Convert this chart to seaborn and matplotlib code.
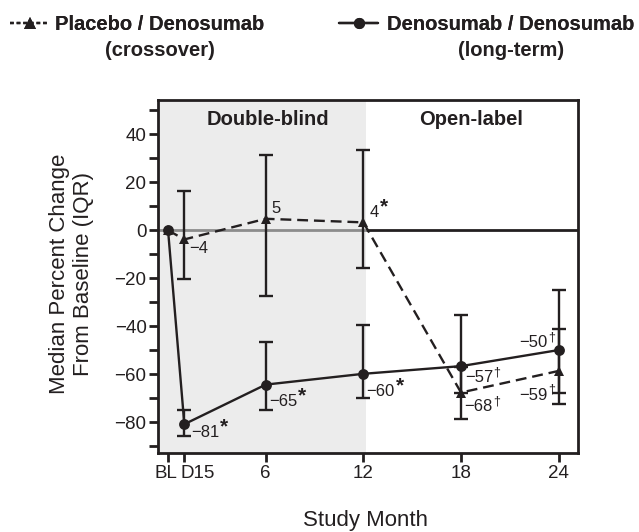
import numpy as np
import pandas as pd
import matplotlib
matplotlib.use('Agg')
import matplotlib.pyplot as plt
import matplotlib.transforms as mtransforms
from matplotlib.lines import Line2D
import seaborn as sns

# ---------------- data ----------------
months = [0, 1, 6, 12, 18, 24]
tick_labels = ['BL', 'D15', '6', '12', '18', '24']

placebo_median = [0, -3.8, 4.8, 3.3, -67.6, -58.6]
placebo_q1 = [0, -20.3, -27.2, -15.6, -78.5, -72.4]
placebo_q3 = [0, 16.5, 31.4, 33.5, -57.0, -41.1]
placebo_labels = ['', '−4', '5', '4*', '−68†', '−59†']

deno_median = [0, -80.8, -64.3, -59.8, -56.6, -49.9]
deno_q1 = [0, -85.6, -74.9, -69.7, -67.6, -67.6]
deno_q3 = [0, -74.9, -46.4, -39.5, -35.5, -24.9]
deno_labels = ['', '−81*', '−65*', '−60*', '−57†', '−50†']

series_names = ['Placebo / Denosumab', 'Denosumab / Denosumab']
series_sub = ['(crossover)', '(long-term)']
phase_names = ['Double-blind', 'Open-label']
xlabel = 'Study Month'
ylabel = 'Median Percent Change\nFrom Baseline (IQR)'

# ---------------- style ----------------
sns.set_style('ticks')
INK = '#231f20'
plt.rcParams['font.family'] = ['Liberation Sans', 'DejaVu Sans']
plt.rcParams['text.color'] = INK

fig = plt.figure(figsize=(6.39, 5.32), dpi=100)
L, R, T, B = 158.3 / 639, 577.7 / 639, 1 - 100 / 532, 1 - 453 / 532
ax = fig.add_axes([L, B, R - L, T - B])

XMIN, XMAX = -0.6, 25.17
YMIN, YMAX = -92.8, 54.3
SHADE_END = 12.16

ax.set_xlim(XMIN, XMAX)
ax.set_ylim(YMIN, YMAX)
ax.set_facecolor('white')
ax.axvspan(XMIN, SHADE_END, color='#ececec', zorder=0, lw=0)
ax.hlines(0, XMIN, SHADE_END, color='#8c8c8c', lw=2.0, zorder=1)
ax.hlines(0, SHADE_END, XMAX, color=INK, lw=2.0, zorder=1)

df_p = pd.DataFrame({'month': months, 'value': placebo_median})
df_d = pd.DataFrame({'month': months, 'value': deno_median})

# error bars (IQR), skip baseline
m = np.array(months[1:])
for med, q1, q3 in [(placebo_median, placebo_q1, placebo_q3),
                    (deno_median, deno_q1, deno_q3)]:
    med_a = np.array(med[1:]); q1_a = np.array(q1[1:]); q3_a = np.array(q3[1:])
    ax.errorbar(m, med_a, yerr=[med_a - q1_a, q3_a - med_a], fmt='none',
                ecolor=INK, elinewidth=1.7, capsize=5, capthick=1.7, zorder=2)

dash = (0, (4.6, 2.5))
sns.lineplot(data=df_p, x='month', y='value', ax=ax, color=INK, lw=1.7,
             linestyle=dash, marker='^', markersize=7.8, markeredgewidth=0,
             errorbar=None, legend=False, zorder=3)
sns.lineplot(data=df_d, x='month', y='value', ax=ax, color=INK, lw=1.7,
             marker='o', markersize=7.8, markeredgewidth=0,
             errorbar=None, legend=False, zorder=4)

# value labels: base number + superscript mark
p_off = [None, (3.6, -9.6, 'left'), (3.8, 4.0, 'left'), (4.8, 4.0, 'left'),
         (2.4, -13.4, 'left'), (-7.9, -20.6, 'right')]
d_off = [None, (4.8, -8.9, 'left'), (2.4, -15.4, 'left'), (2.4, -15.8, 'left'),
         (2.9, -11.5, 'left'), (-7.9, 1.9, 'right')]
pending = []
for labels, vals, offs in [(placebo_labels, placebo_median, p_off),
                           (deno_labels, deno_median, d_off)]:
    for x, y, lab, off in zip(months, vals, labels, offs):
        if not lab:
            continue
        dx, dy, ha = off
        base = lab.rstrip('*†')
        sup = lab[len(base):]
        t = ax.annotate(base, (x, y), xytext=(dx, dy),
                        textcoords='offset points', ha=ha, va='baseline',
                        fontsize=12, color=INK, zorder=5)
        if sup:
            pending.append((t, sup))

ax.text(6.14, 43.9, phase_names[0], ha='center', va='baseline',
        fontsize=14.5, fontweight='bold', color=INK)
ax.text(18.6, 43.9, phase_names[1], ha='center', va='baseline',
        fontsize=14.5, fontweight='bold', color=INK)

# axes styling
for sp in ax.spines.values():
    sp.set_visible(True)
    sp.set_linewidth(2.0)
    sp.set_color(INK)
ax.set_xticks(months)
ax.set_xticklabels(tick_labels)
ax.set_yticks([-80, -60, -40, -20, 0, 20, 40])
ax.set_yticklabels(['−80', '−60', '−40', '−20', '0', '20', '40'])
ax.set_yticks([-90, -70, -50, -30, -10, 10, 30, 50], minor=True)
ax.tick_params(axis='both', which='both', direction='out', length=6.5,
               width=2.0, color=INK, labelsize=13.5, labelcolor=INK, pad=2)
ax.tick_params(axis='y', which='minor', length=6.5, width=2.0)
ax.tick_params(axis='x', which='minor', bottom=False)
ax.set_xlabel('')
ax.set_ylabel('')

# shift BL / D15 tick labels like the reference
shifts = {'BL': -2.6, 'D15': 13.7}
for lab in ax.get_xticklabels():
    s = shifts.get(lab.get_text())
    if s:
        lab.set_transform(lab.get_transform() +
                          mtransforms.ScaledTranslation(s / 100, 0, fig.dpi_scale_trans))

fig.text(365.3 / 639, 1 - 510 / 532, xlabel, ha='center', va='top', fontsize=16, color=INK)
fig.text(71.5 / 639, 1 - 274 / 532, ylabel, ha='center', va='center', rotation=90,
         fontsize=16, color=INK, multialignment='center', linespacing=1.2)

# legend
h_p = Line2D([], [], color=INK, lw=1.7, linestyle=(0, (1.6, 1.2)), marker='^',
             markersize=8, markeredgewidth=0)
h_d = Line2D([], [], color=INK, lw=1.7, marker='o', markersize=8, markeredgewidth=0)
legs = []
for h, name, x0, tp in [(h_p, series_names[0], 10, 0.3), (h_d, series_names[1], 339, 0.45)]:
    lg = fig.legend([h], [name], loc='center left',
                    bbox_to_anchor=(x0 / 639, 1 - 25 / 532), frameon=False,
                    borderpad=0, borderaxespad=0, handlelength=1.94,
                    handletextpad=tp, numpoints=1,
                    prop={'size': 14.5, 'weight': 'bold'})
    for t in lg.get_texts():
        t.set_color(INK)
    legs.append(lg)
    fig.add_artist(lg)

fig.canvas.draw()
rend = fig.canvas.get_renderer()
for lg, sub in zip(legs, series_sub):
    bb = lg.get_texts()[0].get_window_extent(rend)
    cx = (bb.x0 + bb.x1) / 2
    fig.text(cx / fig.bbox.width, 1 - 50 / 532, sub, ha='center', va='center',
             fontsize=14.5, fontweight='bold', color=INK)

# superscripts placed right after each number
for t, sup in pending:
    bb = t.get_window_extent(rend)
    # baseline in pixels: bottom of bbox + descent; use text position instead
    xy_disp = t.get_transform().transform(t.get_position()) if False else None
    base_px = bb.y0 + 0.0
    if sup == '*':
        fig.text((bb.x1 + 0.5) / fig.bbox.width, (bb.y0 + 3.5) / fig.bbox.height, '*',
                 ha='left', va='bottom', fontsize=15, fontweight='bold', color=INK)
    else:
        fig.text((bb.x1 + 0.3) / fig.bbox.width, (bb.y0 + 7.0) / fig.bbox.height, '†',
                 ha='left', va='bottom', fontsize=9, color=INK)

fig.savefig('out.png', dpi=100)
